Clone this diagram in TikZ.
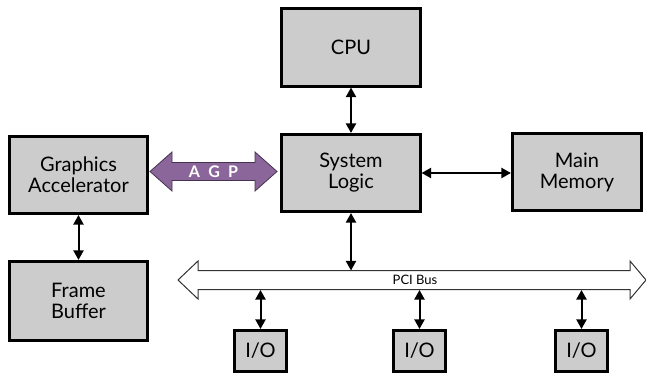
\documentclass[tikz,border=0pt]{standalone}
\usepackage{fontspec}
\setmainfont{Lato}
\newfontfamily\agpfont{Lato}[LetterSpace=8,WordSpace=1.6]
\usepackage{tikz}
\usepackage{xcolor}
\usetikzlibrary{calc,arrows.meta}

\definecolor{boxgray}{RGB}{204,204,204}
\definecolor{agppurple}{RGB}{139,102,155}
\definecolor{agpline}{RGB}{70,50,80}

\begin{document}
\begin{tikzpicture}[x=1pt,y=-1pt,
    blockbox/.style={draw=black, fill=boxgray, line width=2.6pt, align=center,
        font=\fontsize{20}{21}\selectfont, inner sep=0pt},
    smallbox/.style={blockbox, minimum width=52.5pt, minimum height=41.5pt},
    bigbox/.style={blockbox, minimum width=138.5pt, minimum height=77.5pt},
    link/.style={{Triangle[length=9.5pt,width=10pt]}-{Triangle[length=9.5pt,width=10pt]}, line width=2pt}]
            \path[use as bounding box] (0,0) rectangle (646,377);
            \node[bigbox] (cpu) at (351,47.5) {CPU};
            \node[bigbox] (sl) at (351,173) {System\\Logic};
            \node[bigbox, minimum width=129.5pt] (mm) at (577,172) {Main\\Memory};
            \node[bigbox] (ga) at (78.5,175) {Graphics\\Accelerator};
            \node[bigbox, minimum height=79.5pt] (fb) at (78.5,301) {Frame\\Buffer};
            \node[smallbox] (io1) at (260.5,351) {I/O};
            \node[smallbox] (io2) at (419.5,351) {I/O};
            \node[smallbox] (io3) at (581.5,351) {I/O};

            % the two block arrows
            \coordinate (agpL) at (150,171.5);
            \coordinate (agpR) at (277,171.5);
            \coordinate (busL) at (178,280);
            \coordinate (busR) at (646,280);

            \draw[fill=agppurple, draw=agpline, line width=0.8pt, line join=miter]
                (agpL) -- ++(22,-19.5) -- ++(0,10.5) -- ($(agpR)+(-22,-9)$) -- ++(0,-10.5)
                -- (agpR) -- ++(-22,19.5) -- ++(0,-10.5) -- ($(agpL)+(22,9)$) -- ++(0,10.5) -- cycle;
            \node[text=white, font=\agpfont\bfseries\fontsize{16}{16}\selectfont] (agp) at ($(agpL)!0.5!(agpR)$) {A G P};

            \draw[fill=white, draw=black!80, line width=1pt, line join=miter]
                (busL) -- ++(20,-19) -- ++(0,9.5) -- ($(busR)+(-16,-9.5)$) -- ++(0,-9.5)
                -- (busR) -- ++(-16,19) -- ++(0,-9.5) -- ($(busL)+(20,9.5)$) -- ++(0,9.5) -- cycle;
            \node[font=\fontsize{13}{13}\selectfont] (pci) at (415,280) {PCI Bus};

            \coordinate (b0) at (351,270.5);
            \coordinate (b1) at (260.5,290);
            \coordinate (b2) at (419.5,290);
            \coordinate (b3) at (581.5,290);

            \draw[link] (cpu) -- (sl);
            \draw[link] (sl) -- (b0);
            \draw[link] (sl.east) -- (sl.east -| mm.west);
            \draw[link] (ga) -- (fb);
            \draw[link] (b1) -- (io1);
            \draw[link] (b2) -- (io2);
            \draw[link] (b3) -- (io3);

        \end{tikzpicture}
\end{document}
